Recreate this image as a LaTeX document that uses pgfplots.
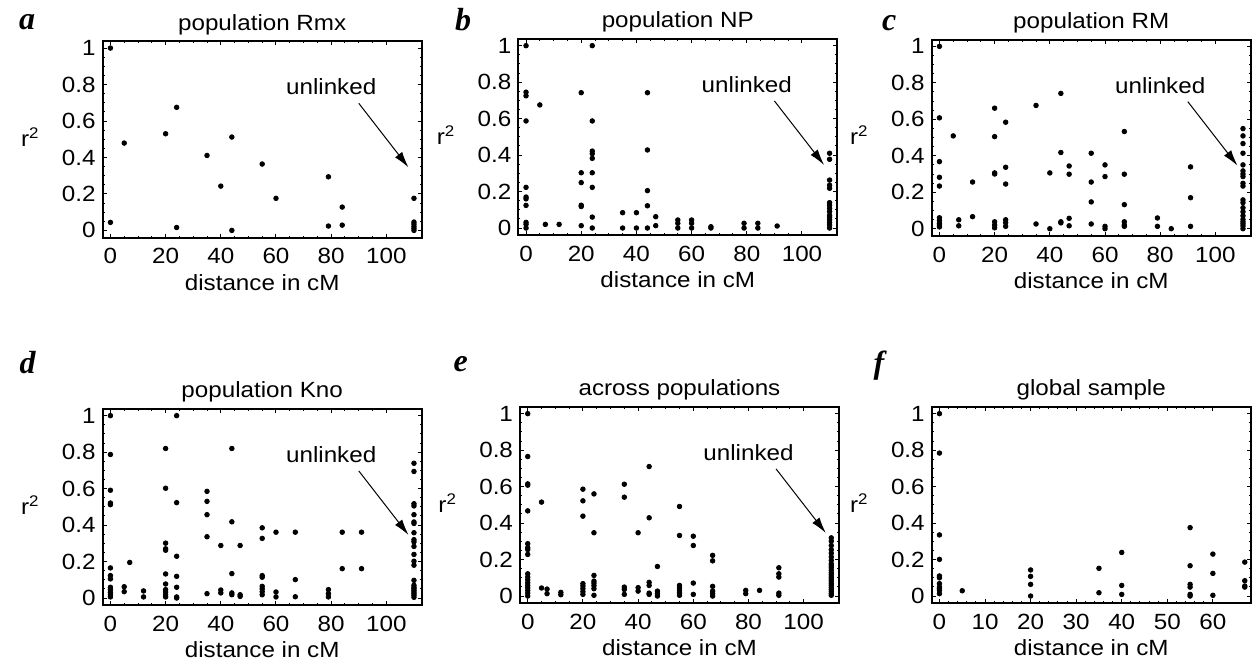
\documentclass[border=0pt]{standalone}
\usepackage{fontspec}
\setmainfont{Liberation Sans}[FakeStretch=1.1]
\newfontfamily\letterfont{Liberation Serif}
\usepackage{pgfplots}
\pgfplotsset{compat=1.18}
\usetikzlibrary{arrows.meta}

\newcommand{\lbl}{\fontsize{11}{13}\selectfont}
\newcommand{\pletter}{\letterfont\bfseries\itshape\fontsize{16}{18}\selectfont}

\pgfplotsset{
  panel/.style={
    width=159.5pt, height=98.2pt, scale only axis,
    anchor=south west,
    xmin=-2.8, xmax=112.8, ymin=-0.04, ymax=1.037,
    xtick={0,20,40,60,80,100},
    ytick={0,0.2,0.4,0.6,0.8,1},
    minor x tick num=3, minor y tick num=3,
    tick align=inside,
    major tick length=2pt, minor tick length=1pt,
    axis line style={line width=1pt},
    every tick/.style={black, line width=0.5pt},
    tick label style={font=\lbl, /pgf/number format/assume math mode=true},
    xticklabel style={yshift=-1.8pt},
    every axis title/.style={at={(axis description cs:0.5,1)}, anchor=base, yshift=5.5pt, font=\lbl},
    every axis x label/.style={at={(axis description cs:0.5,0)}, anchor=base, yshift=-26.15pt, font=\lbl},
    every axis y label/.style={at={(axis description cs:0,0.5)}, anchor=base east, xshift=-28pt, yshift=-3.5pt, font=\lbl},
    xlabel={distance in cM},
    ylabel={r\textsuperscript{2}},
  },
  dots/.style={only marks, mark=*, mark size=1.15pt, black},
}

% "unlinked" label and arrow, in data coordinates
\newcommand{\unlinked}{%
  \node[anchor=base, font=\lbl] at (axis cs:80,0.743) {unlinked};
  \draw[line width=0.5pt, -{Latex[length=8pt,width=4.5pt]}] (axis cs:90,0.697) -- (axis cs:108,0.346);
}

\begin{document}
\begin{tikzpicture}
\useasboundingbox (0,0) rectangle (628pt,-330.5pt);

% panel letters
\node[anchor=base west, font=\pletter] at (6pt,-14.5pt) {a};
\node[anchor=base west, font=\pletter] at (224pt,-15pt) {b};
\node[anchor=base west, font=\pletter] at (437.5pt,-15pt) {c};
\node[anchor=base west, font=\pletter] at (6.3pt,-186.5pt) {d};
\node[anchor=base west, font=\pletter] at (223.3pt,-185.9pt) {e};
\node[anchor=base west, font=\pletter] at (433.3pt,-186.5pt) {f};

% a: population Rmx
\begin{axis}[panel, at={(51.35pt,-118.85pt)}, title={population Rmx}]
\addplot[dots] coordinates {
(0,1.0)(0,0.044)(5,0.479)(20,0.530)(24,0.675)(24,0.016)(35,0.411)(40,0.243)
(44,0.512)(44,0.0)(55,0.364)(60,0.176)(79,0.294)(79,0.024)(84,0.128)(84,0.029)
(110,0.176)(110,0.046)(110,0.035)(110,0.022)(110,0.011)(110,0.0)
};
\unlinked
\end{axis}

% b: population NP
\begin{axis}[panel, at={(259.15pt,-117.65pt)}, title={population NP}]
\addplot[dots] coordinates {
(0,1.0)(0,0.745)(0,0.725)(0,0.587)(0,0.223)(0,0.170)(0,0.160)(0,0.124)(0,0.031)(0,0.02)(0,0.0)
(5,0.675)(7,0.02)(12,0.02)
(20,0.742)(20,0.303)(20,0.249)(20,0.125)(20,0.118)(20,0.013)
(24,1.0)(24,0.587)(24,0.422)(24,0.408)(24,0.382)(24,0.303)(24,0.223)(24,0.06)(24,0.0)
(35,0.084)(35,0.0)(40,0.084)(40,0.0)
(44,0.742)(44,0.428)(44,0.205)(44,0.122)(44,0.0)
(47,0.062)(47,0.013)
(55,0.044)(55,0.026)(55,0.0)(60,0.044)(60,0.026)(60,0.0)
(67,0.007)(67,0.0)(79,0.026)(79,0.0)(84,0.026)(84,0.0)(91,0.011)
(110,0.41)(110,0.377)(110,0.263)(110,0.235)(110,0.218)(110,0.139)(110,0.125)(110,0.108)
(110,0.09)(110,0.07)(110,0.06)(110,0.045)(110,0.03)(110,0.016)(110,0.0)
};
\unlinked
\end{axis}

% c: population RM
\begin{axis}[panel, at={(465.85pt,-118pt)}, title={population RM}]
\addplot[dots] coordinates {
(0,1.0)(0,0.608)(0,0.368)(0,0.282)(0,0.234)(0,0.06)(0,0.045)(0,0.03)(0,0.02)(0,0.01)
(5,0.509)(7,0.049)(7,0.016)(12,0.256)(12,0.066)
(20,0.661)(20,0.505)(20,0.306)(20,0.30)(20,0.038)(20,0.02)(20,0.005)
(24,0.584)(24,0.337)(24,0.245)(24,0.049)(24,0.033)(24,0.013)
(35,0.676)(35,0.026)(40,0.306)(40,0.0)
(44,0.742)(44,0.418)(44,0.038)(44,0.032)
(47,0.344)(47,0.299)(47,0.057)(47,0.016)
(55,0.414)(55,0.256)(55,0.147)(55,0.026)
(60,0.35)(60,0.286)(60,0.013)(60,0.0)
(67,0.533)(67,0.299)(67,0.132)(67,0.038)(67,0.02)(67,0.013)
(79,0.059)(79,0.013)(84,0.0)(91,0.339)(91,0.17)(91,0.013)
(110,0.549)(110,0.509)(110,0.467)(110,0.414)(110,0.35)(110,0.317)(110,0.3)(110,0.286)
(110,0.249)(110,0.234)(110,0.158)(110,0.143)(110,0.115)(110,0.093)(110,0.071)(110,0.051)
(110,0.038)(110,0.027)(110,0.015)(110,0.0)
};
\unlinked
\end{axis}

% d: population Kno
\begin{axis}[panel, at={(51.35pt,-302.65pt)}, title={population Kno}]
\addplot[dots] coordinates {
(0,1.0)(0,0.787)(0,0.591)(0,0.521)(0,0.512)(0,0.165)(0,0.123)(0,0.105)(0,0.059)(0,0.046)(0,0.031)(0,0.018)(0,0.006)
(5,0.062)(5,0.035)(7,0.195)(12,0.039)(12,0.006)
(20,0.82)(20,0.602)(20,0.301)(20,0.27)(20,0.262)(20,0.132)(20,0.077)(20,0.046)(20,0.033)(20,0.018)(20,0.006)
(24,1.0)(24,0.523)(24,0.229)(24,0.119)(24,0.059)(24,0.006)(24,0.0)
(35,0.585)(35,0.53)(35,0.457)(35,0.336)(35,0.024)
(40,0.288)(40,0.044)(40,0.028)
(44,0.82)(44,0.418)(44,0.134)(44,0.028)(44,0.018)
(47,0.288)(47,0.018)(47,0.009)
(55,0.385)(55,0.327)(55,0.123)(55,0.114)(55,0.064)(55,0.05)(55,0.035)(55,0.018)
(60,0.361)(60,0.033)(60,0.006)
(67,0.361)(67,0.101)(67,0.007)
(79,0.046)(79,0.024)(79,0.006)
(84,0.361)(84,0.161)(91,0.361)(91,0.161)
(110,0.739)(110,0.694)(110,0.517)(110,0.505)(110,0.457)(110,0.417)(110,0.409)(110,0.358)
(110,0.32)(110,0.308)(110,0.283)(110,0.239)(110,0.202)(110,0.18)(110,0.097)(110,0.07)
(110,0.059)(110,0.051)(110,0.042)(110,0.033)(110,0.024)(110,0.015)(110,0.004)
};
\unlinked
\end{axis}

% e: across populations
\begin{axis}[panel, at={(260pt,-301.65pt)}, title={across populations}]
\addplot[dots] coordinates {
(0,1.0)(0,0.765)(0,0.615)(0,0.608)(0,0.467)(0,0.287)(0,0.265)(0,0.255)(0,0.228)
(0,0.122)(0,0.104)(0,0.089)(0,0.073)(0,0.058)(0,0.046)(0,0.031)(0,0.016)(0,0.0)
(5,0.515)(5,0.044)(7,0.038)(7,0.013)(12,0.02)(12,0.007)
(20,0.586)(20,0.522)(20,0.438)(20,0.068)(20,0.055)(20,0.04)(20,0.024)(20,0.009)
(24,0.56)(24,0.347)(24,0.113)(24,0.082)(24,0.071)(24,0.057)(24,0.04)(24,0.004)
(35,0.613)(35,0.542)(35,0.049)(35,0.036)(35,0.009)
(40,0.347)(40,0.046)(40,0.027)
(44,0.71)(44,0.429)(44,0.075)(44,0.058)(44,0.016)(44,0.009)
(47,0.162)(47,0.027)(47,0.013)(47,0.0)
(55,0.491)(55,0.332)(55,0.058)(55,0.046)(55,0.031)(55,0.018)(55,0.004)
(60,0.328)(60,0.277)(60,0.071)(60,0.009)
(67,0.223)(67,0.193)(67,0.053)(67,0.027)(67,0.013)(67,0.0)
(79,0.031)(79,0.013)(84,0.031)
(91,0.155)(91,0.122)(91,0.104)(91,0.016)(91,0.004)
(110,0.319)(110,0.301)(110,0.277)(110,0.254)(110,0.235)(110,0.214)(110,0.195)(110,0.177)
(110,0.166)(110,0.155)(110,0.141)(110,0.128)(110,0.117)(110,0.104)(110,0.093)(110,0.082)
(110,0.069)(110,0.058)(110,0.046)(110,0.035)(110,0.024)(110,0.013)(110,0.004)
};
\unlinked
\end{axis}

% f: global sample
\begin{axis}[panel, at={(465.85pt,-301.65pt)}, title={global sample},
  xmin=-1.7, xmax=68.3, xtick={0,10,20,30,40,50,60}, minor x tick num=4]
\addplot[dots] coordinates {
(0,1.0)(0,0.784)(0,0.335)(0,0.201)(0,0.11)(0,0.1)(0,0.068)(0,0.049)(0,0.04)(0,0.031)(0,0.013)
(5,0.029)
(20,0.143)(20,0.108)(20,0.064)(20,0.0)
(35,0.152)(35,0.018)
(40,0.239)(40,0.058)(40,0.009)
(55,0.375)(55,0.166)(55,0.064)(55,0.049)(55,0.009)(55,0.0)
(60,0.23)(60,0.124)(60,0.004)
(67,0.186)(67,0.084)(67,0.055)(67,0.049)
};
\end{axis}
\end{tikzpicture}
\end{document}
